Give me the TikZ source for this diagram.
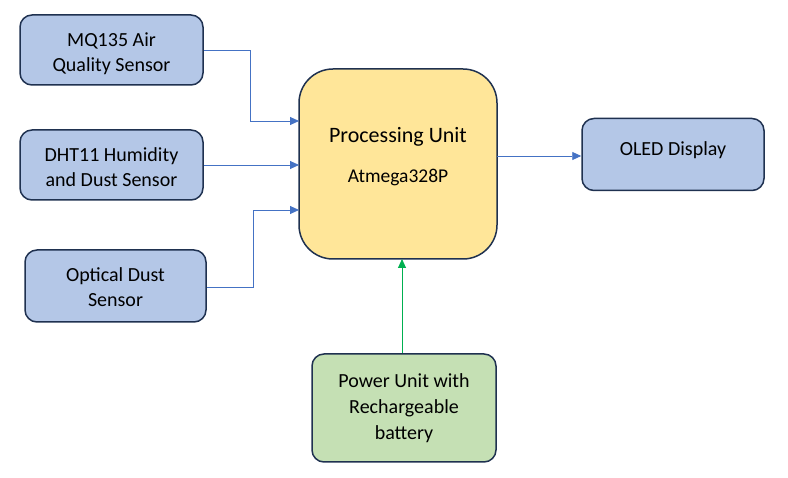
\documentclass[tikz,border=0pt]{standalone}
\usepackage{fontspec}
\setmainfont{Carlito}
\usetikzlibrary{arrows.meta}

\definecolor{boxline}{HTML}{1F3150}
\definecolor{sensorfill}{HTML}{B4C7E7}
\definecolor{cpufill}{HTML}{FFE699}
\definecolor{powerfill}{HTML}{C5E0B4}
\definecolor{wireblue}{HTML}{4472C4}
\definecolor{wiregreen}{HTML}{00B050}

\newcommand{\shifttext}[2]{\raisebox{#1}[\height][\depth]{#2}}

\tikzset{
	block/.style={draw=boxline, line width=1.5pt, rounded corners=12pt, align=center, inner sep=0pt, font=\fontsize{20}{25}\selectfont},
	wire/.style={draw=wireblue, line width=0.9pt, -{Triangle[length=9pt, width=8pt]}},
}

\begin{document}
\begin{tikzpicture}[x=1pt, y=-1pt]
				\useasboundingbox (0,0) rectangle (788,478);
				
				% sensors on the left
				\node[block, fill=sensorfill, minimum width=183pt, minimum height=70pt] (mq) at (111.5,50) {\shifttext{-3.5pt}{MQ135 Air}\\\shifttext{-3.5pt}{Quality Sensor}};
				\node[block, fill=sensorfill, minimum width=183pt, minimum height=70pt] (dht) at (111.5,165) {\shifttext{-2.5pt}{DHT11 Humidity}\\\shifttext{-2.5pt}{and Dust Sensor}};
				\node[block, fill=sensorfill, minimum width=181pt, minimum height=72pt] (opt) at (115.5,286) {\shifttext{-1.5pt}{Optical Dust}\\\shifttext{-1.5pt}{Sensor}};
				
				\node[block, fill=cpufill, rounded corners=34pt, minimum width=198pt, minimum height=190pt] (cpu) at (398,164) {};
				\node[font=\fontsize{22}{26}\selectfont] (cpuname) at (398,137) {Processing Unit};
				\node[font=\fontsize{19.5}{24}\selectfont] (cpuchip) at (398,178) {Atmega328P};
				
				\node[block, fill=sensorfill, minimum width=182pt, minimum height=72pt] (oled) at (673,154.5) {\shifttext{4pt}{OLED Display}};
				\node[block, fill=powerfill, minimum width=184pt, minimum height=108pt, font=\fontsize{20}{26}\selectfont] (pwr) at (404,408) {Power Unit with\\Rechargeable\\battery};
				
				\coordinate (cpuin1) at (299,121);
				\coordinate (cpuin2) at (299,165);
				\coordinate (cpuin3) at (299,210);
				\coordinate (cpuout) at (497,156);
				\coordinate (cpupwr) at (402,259);
				
				\draw[wire] (mq.east |- 0,50) -| (250,121) -- (cpuin1);
				\draw[wire] (dht.east) -- (cpuin2);
				\draw[wire] (opt.east |- 0,287) -| (253,210) -- (cpuin3);
				\draw[wire] (cpuout) -- (oled.west |- cpuout);
				\draw[wire, draw=wiregreen, fill=wiregreen] (pwr.north -| cpupwr) -- (cpupwr);
			\end{tikzpicture}
\end{document}
